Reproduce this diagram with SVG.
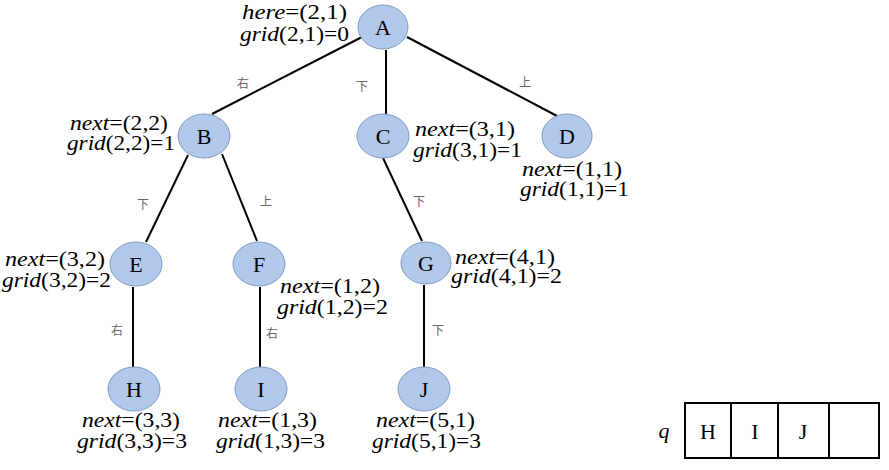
<svg xmlns="http://www.w3.org/2000/svg" width="889" height="470" viewBox="0 0 889 470">
  <style>
    .node ellipse { fill: #b1c8eb; stroke: #7f9cc4; stroke-width: 1; }
    .edges line { stroke: #000; stroke-width: 2; }
    .queue rect, .queue line { fill: none; stroke: #000; stroke-width: 2; }
    text.tm, text.tm tspan { font-family: 'Liberation Serif', 'Times New Roman', serif; }
    text.cjk { font-family: 'Noto Sans CJK SC', sans-serif; }
  </style>

  <!-- tree edges -->
  <g id="edges" class="edges">
    <line x1="362" y1="37" x2="212" y2="114"/>
    <line x1="386" y1="50" x2="386" y2="114"/>
    <line x1="407" y1="37" x2="557" y2="116"/>
    <line x1="188" y1="155" x2="146" y2="242"/>
    <line x1="222" y1="154" x2="257" y2="241"/>
    <line x1="383" y1="158" x2="422" y2="241"/>
    <line x1="133" y1="287" x2="133" y2="367"/>
    <line x1="260" y1="287" x2="260" y2="367"/>
    <line x1="424" y1="285" x2="424" y2="367"/>
  </g>

  <!-- move direction labels -->
  <g id="directions" fill="#666" font-size="12" text-anchor="middle">
    <text class="cjk" x="243" y="88">右</text>
    <text class="cjk" x="362" y="91">下</text>
    <text class="cjk" x="525" y="87">上</text>
    <text class="cjk" x="143" y="209">下</text>
    <text class="cjk" x="266" y="206">上</text>
    <text class="cjk" x="419" y="206">下</text>
    <text class="cjk" x="117" y="335">右</text>
    <text class="cjk" x="272" y="338">右</text>
    <text class="cjk" x="438" y="335">下</text>
  </g>

  <!-- nodes -->
  <g font-size="22" text-anchor="middle">
    <g id="node-A" class="node"><ellipse cx="383" cy="27" rx="25" ry="22"/><text class="tm" x="383" y="35">A</text></g>
    <g id="node-B" class="node"><ellipse cx="204" cy="136" rx="26" ry="22"/><text class="tm" x="204" y="144">B</text></g>
    <g id="node-C" class="node"><ellipse cx="383" cy="136" rx="26" ry="22"/><text class="tm" x="383" y="144">C</text></g>
    <g id="node-D" class="node"><ellipse cx="567" cy="136" rx="25" ry="22"/><text class="tm" x="567" y="144">D</text></g>
    <g id="node-E" class="node"><ellipse cx="136" cy="264" rx="26" ry="22"/><text class="tm" x="136" y="272">E</text></g>
    <g id="node-F" class="node"><ellipse cx="259" cy="264" rx="26" ry="22"/><text class="tm" x="259" y="272">F</text></g>
    <g id="node-G" class="node"><ellipse cx="426" cy="263" rx="25" ry="21"/><text class="tm" x="426" y="271">G</text></g>
    <g id="node-H" class="node"><ellipse cx="134" cy="389" rx="26" ry="22"/><text class="tm" x="134" y="397">H</text></g>
    <g id="node-I" class="node"><ellipse cx="261" cy="389" rx="26" ry="22"/><text class="tm" x="261" y="397">I</text></g>
    <g id="node-J" class="node"><ellipse cx="424" cy="389" rx="26" ry="22"/><text class="tm" x="424" y="397">J</text></g>
  </g>

  <!-- position / distance annotations, each fitted to a fixed run length -->
  <g id="annotations" font-size="22">
    <text class="tm" x="242" y="19" textLength="105" lengthAdjust="spacingAndGlyphs"><tspan font-style="italic">here</tspan>=(2,1)</text>
    <text class="tm" x="240" y="41" textLength="109" lengthAdjust="spacingAndGlyphs"><tspan font-style="italic">grid</tspan>(2,1)=0</text>

    <text class="tm" x="70" y="130" textLength="98" lengthAdjust="spacingAndGlyphs"><tspan font-style="italic">next</tspan>=(2,2)</text>
    <text class="tm" x="67" y="150" textLength="108" lengthAdjust="spacingAndGlyphs"><tspan font-style="italic">grid</tspan>(2,2)=1</text>

    <text class="tm" x="415" y="136" textLength="100" lengthAdjust="spacingAndGlyphs"><tspan font-style="italic">next</tspan>=(3,1)</text>
    <text class="tm" x="413" y="157" textLength="109" lengthAdjust="spacingAndGlyphs"><tspan font-style="italic">grid</tspan>(3,1)=1</text>

    <text class="tm" x="522" y="176" textLength="100" lengthAdjust="spacingAndGlyphs"><tspan font-style="italic">next</tspan>=(1,1)</text>
    <text class="tm" x="520" y="196" textLength="109" lengthAdjust="spacingAndGlyphs"><tspan font-style="italic">grid</tspan>(1,1)=1</text>

    <text class="tm" x="5" y="266" textLength="100" lengthAdjust="spacingAndGlyphs"><tspan font-style="italic">next</tspan>=(3,2)</text>
    <text class="tm" x="2" y="287" textLength="109" lengthAdjust="spacingAndGlyphs"><tspan font-style="italic">grid</tspan>(3,2)=2</text>

    <text class="tm" x="280" y="293" textLength="100" lengthAdjust="spacingAndGlyphs"><tspan font-style="italic">next</tspan>=(1,2)</text>
    <text class="tm" x="277" y="314" textLength="111" lengthAdjust="spacingAndGlyphs"><tspan font-style="italic">grid</tspan>(1,2)=2</text>

    <text class="tm" x="455" y="264" textLength="100" lengthAdjust="spacingAndGlyphs"><tspan font-style="italic">next</tspan>=(4,1)</text>
    <text class="tm" x="451" y="283" textLength="111" lengthAdjust="spacingAndGlyphs"><tspan font-style="italic">grid</tspan>(4,1)=2</text>

    <text class="tm" x="82" y="427" textLength="98" lengthAdjust="spacingAndGlyphs"><tspan font-style="italic">next</tspan>=(3,3)</text>
    <text class="tm" x="77" y="448" textLength="110" lengthAdjust="spacingAndGlyphs"><tspan font-style="italic">grid</tspan>(3,3)=3</text>

    <text class="tm" x="218" y="427" textLength="99" lengthAdjust="spacingAndGlyphs"><tspan font-style="italic">next</tspan>=(1,3)</text>
    <text class="tm" x="216" y="448" textLength="109" lengthAdjust="spacingAndGlyphs"><tspan font-style="italic">grid</tspan>(1,3)=3</text>

    <text class="tm" x="376" y="427" textLength="99" lengthAdjust="spacingAndGlyphs"><tspan font-style="italic">next</tspan>=(5,1)</text>
    <text class="tm" x="372" y="448" textLength="109" lengthAdjust="spacingAndGlyphs"><tspan font-style="italic">grid</tspan>(5,1)=3</text>
  </g>

  <!-- queue q -->
  <g id="queue" class="queue" font-size="22" text-anchor="middle">
    <text class="tm" x="664" y="438" font-style="italic">q</text>
    <rect x="685" y="403" width="194" height="55"/>
    <line x1="731" y1="403" x2="731" y2="458"/>
    <line x1="778" y1="403" x2="778" y2="458"/>
    <line x1="829" y1="403" x2="829" y2="458"/>
    <text class="tm" x="708" y="439">H</text>
    <text class="tm" x="755" y="439">I</text>
    <text class="tm" x="803" y="439">J</text>
  </g>
</svg>
